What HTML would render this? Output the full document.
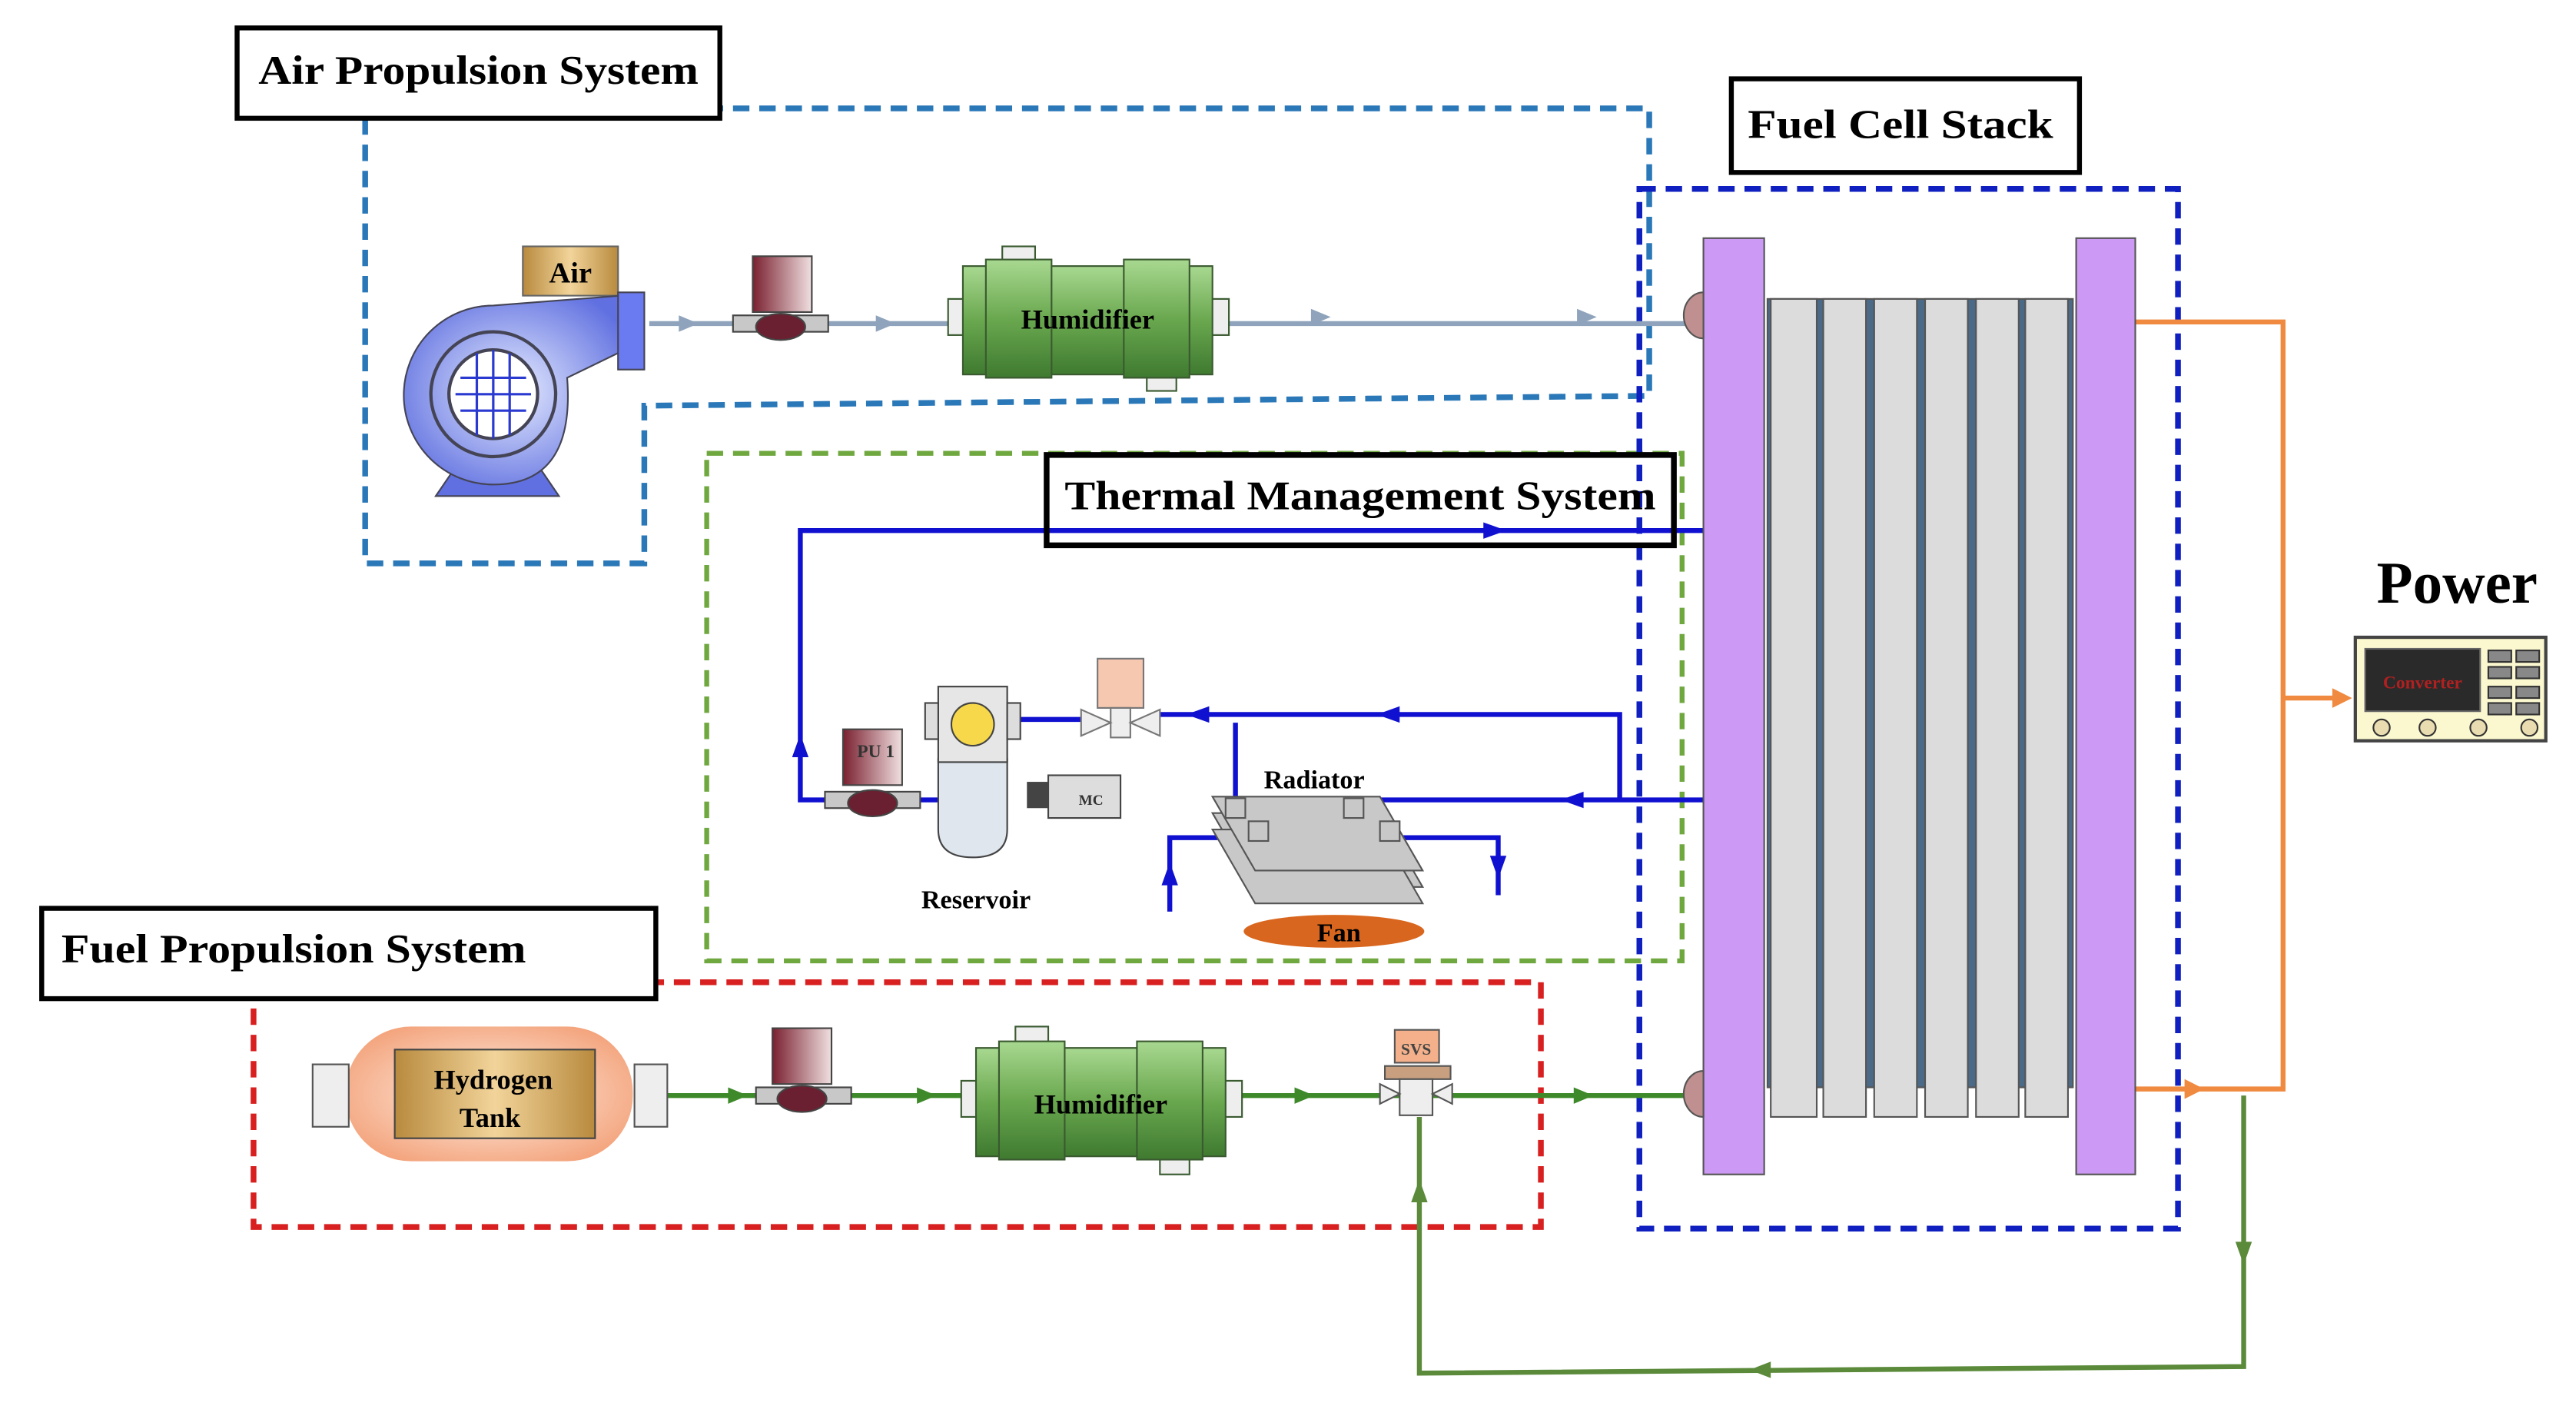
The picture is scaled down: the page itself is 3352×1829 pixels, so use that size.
<!DOCTYPE html>
<html><head><meta charset="utf-8"><style>
html,body{margin:0;padding:0;background:#fff;}
svg{display:block}
text{font-family:"Liberation Serif",serif;font-weight:bold;}
</style></head><body>
<svg width="3352" height="1829" viewBox="0 0 1568 856" xmlns="http://www.w3.org/2000/svg">
<defs>
<linearGradient id="grn" x1="0" y1="0" x2="0" y2="1"><stop offset="0" stop-color="#a8d890"/><stop offset="0.5" stop-color="#6aa84f"/><stop offset="1" stop-color="#3f7a30"/></linearGradient>
<linearGradient id="vlv" x1="0" y1="0" x2="1" y2="0"><stop offset="0" stop-color="#7a2030"/><stop offset="1" stop-color="#f0e0e0"/></linearGradient>
<radialGradient id="pmp" cx="0.5" cy="0.5" r="0.6"><stop offset="0" stop-color="#e6ecff"/><stop offset="1" stop-color="#6070e0"/></radialGradient>
<radialGradient id="tank" cx="0.5" cy="0.5" r="0.6"><stop offset="0" stop-color="#fff0e6"/><stop offset="1" stop-color="#f3a27a"/></radialGradient>
<linearGradient id="box" x1="0" y1="0" x2="1" y2="0"><stop offset="0" stop-color="#b88a3e"/><stop offset="0.5" stop-color="#f2d49a"/><stop offset="1" stop-color="#b88a3e"/></linearGradient>
</defs>

<polygon points="222,66 1004,66 1004,241 392,247 392,343 222,343" fill="none" stroke="#2a78b8" stroke-width="3.5" stroke-dasharray="10,6"/>
<rect x="430" y="276" width="594" height="309" fill="none" stroke="#70a840" stroke-width="3" stroke-dasharray="10,6"/>
<rect x="154" y="598" width="784" height="149" fill="none" stroke="#d82020" stroke-width="3.5" stroke-dasharray="10,6"/>
<rect x="998" y="115" width="328" height="633" fill="none" stroke="#1020c0" stroke-width="3.5" stroke-dasharray="10,6"/>

<polyline points="1300,196 1390,196 1390,663 1300,663" fill="none" stroke="#f08a40" stroke-width="3"/>
<line x1="1390" y1="425" x2="1425" y2="425" stroke="#f08a40" stroke-width="3"/>
<polygon points="1432,425 1420,419 1420,431" fill="#f08a40"/>
<polygon points="1342,663 1330,657 1330,669" fill="#f08a40"/>

<line x1="395" y1="197" x2="1030" y2="197" stroke="#8fa4bc" stroke-width="3"/>
<polygon points="425,197 413,192 413,202" fill="#8fa4bc"/>
<polygon points="545,197 533,192 533,202" fill="#8fa4bc"/>
<polygon points="810,193 798,188 798,198" fill="#8fa4bc"/>
<polygon points="972,193 960,188 960,198" fill="#8fa4bc"/>

<line x1="405" y1="667" x2="1030" y2="667" stroke="#3e8a2a" stroke-width="3"/>
<polygon points="455,667 443,662 443,672" fill="#3e8a2a"/>
<polygon points="570,667 558,662 558,672" fill="#3e8a2a"/>
<polygon points="800,667 788,662 788,672" fill="#3e8a2a"/>
<polygon points="970,667 958,662 958,672" fill="#3e8a2a"/>
<polyline points="1366,667 1366,832 864,836 864,680" fill="none" stroke="#5a8a3a" stroke-width="3"/>
<polygon points="1366,770 1361,756 1371,756" fill="#5a8a3a"/>
<polygon points="1065,834 1078,829 1078,839" fill="#5a8a3a"/>
<polygon points="864,718 859,732 869,732" fill="#5a8a3a"/>

<g stroke="#1010d0" stroke-width="3" fill="none">
<polyline points="1037,323 487,323 487,487 520,487"/>
<polyline points="560,487 600,487"/>
<polyline points="610,438 660,438"/>
<polyline points="705,435 986,435 986,487"/>
<polyline points="825,487 1037,487"/>
<polyline points="752,487 752,440"/>
<polyline points="712,555 712,510 905,510 912,510 912,545"/>
</g>
<g fill="#1010d0">
<polygon points="917,323 903,318 903,328"/>
<polygon points="487,447 482,461 492,461"/>
<polygon points="722,435 736,430 736,440"/>
<polygon points="838,435 852,430 852,440"/>
<polygon points="950,487 964,482 964,492"/>
<polygon points="712,525 707,539 717,539"/>
<polygon points="912,535 907,521 917,521"/>
</g>

<g stroke="#555" stroke-width="1">
<rect x="1076" y="182" width="186" height="480" fill="#4a6a88"/>
<rect x="1078" y="182" width="28" height="498" fill="#dcdcdc"/>
<rect x="1110" y="182" width="26" height="498" fill="#dcdcdc"/>
<rect x="1141" y="182" width="26" height="498" fill="#dcdcdc"/>
<rect x="1172" y="182" width="26" height="498" fill="#dcdcdc"/>
<rect x="1203" y="182" width="26" height="498" fill="#dcdcdc"/>
<rect x="1233" y="182" width="26" height="498" fill="#dcdcdc"/>
<rect x="1037" y="145" width="37" height="570" fill="#cc99f5"/>
<rect x="1264" y="145" width="36" height="570" fill="#cc99f5"/>
</g>
<path d="M1037,178 A12,14 0 0 0 1037,206 Z" fill="#c09090" stroke="#555"/>
<path d="M1037,652 A12,14 0 0 0 1037,680 Z" fill="#c09090" stroke="#555"/>

<rect x="318" y="150" width="58" height="30" fill="url(#box)" stroke="#666"/>
<text x="347" y="172" font-size="18" text-anchor="middle">Air</text>
<path d="M265,302 L280,280 L325,280 L340,302 Z" fill="#6070e0" stroke="#445"/>
<path d="M300,186 L378,180 L378,214 L345,230 Q350,295 300,295 A52,52 0 1 1 300,186 Z" fill="url(#pmp)" stroke="#445"/>
<rect x="376" y="178" width="16" height="47" fill="#6a7af0" stroke="#445"/>
<circle cx="300" cy="240" r="38" fill="none" stroke="#445" stroke-width="2"/>
<circle cx="300" cy="240" r="27" fill="#fff" stroke="#445" stroke-width="2"/>
<g stroke="#2a3ad0" stroke-width="1.5"><line x1="280" y1="230" x2="320" y2="230"/><line x1="277" y1="240" x2="323" y2="240"/><line x1="280" y1="250" x2="320" y2="250"/><line x1="290" y1="215" x2="290" y2="265"/><line x1="300" y1="213" x2="300" y2="267"/><line x1="310" y1="215" x2="310" y2="265"/></g>

<rect x="458" y="156" width="36" height="34" fill="url(#vlv)" stroke="#444"/>
<rect x="446" y="192" width="58" height="10" fill="#c8c8c8" stroke="#444"/>
<ellipse cx="475" cy="199" rx="15" ry="8" fill="#6a2030" stroke="#444"/>
<rect x="470" y="626" width="36" height="34" fill="url(#vlv)" stroke="#444"/>
<rect x="460" y="662" width="58" height="10" fill="#c8c8c8" stroke="#444"/>
<ellipse cx="488" cy="669" rx="15" ry="8" fill="#6a2030" stroke="#444"/>

<g stroke="#3a5a30">
<rect x="610" y="150" width="20" height="12" fill="#eee"/>
<rect x="698" y="226" width="18" height="12" fill="#eee"/>
<rect x="577" y="182" width="14" height="22" fill="#eee"/>
<rect x="736" y="182" width="12" height="22" fill="#eee"/>
<rect x="586" y="162" width="152" height="66" fill="url(#grn)"/>
<rect x="600" y="158" width="40" height="72" fill="url(#grn)"/>
<rect x="684" y="158" width="40" height="72" fill="url(#grn)"/>
</g>
<text x="662" y="200" font-size="17" text-anchor="middle">Humidifier</text>
<g stroke="#3a5a30">
<rect x="618" y="625" width="20" height="12" fill="#eee"/>
<rect x="706" y="703" width="18" height="12" fill="#eee"/>
<rect x="585" y="658" width="14" height="22" fill="#eee"/>
<rect x="744" y="658" width="12" height="22" fill="#eee"/>
<rect x="594" y="638" width="152" height="66" fill="url(#grn)"/>
<rect x="608" y="634" width="40" height="72" fill="url(#grn)"/>
<rect x="692" y="634" width="40" height="72" fill="url(#grn)"/>
</g>
<text x="670" y="678" font-size="17" text-anchor="middle">Humidifier</text>

<rect x="210" y="625" width="175" height="82" rx="40" fill="url(#tank)"/>
<rect x="190" y="648" width="22" height="38" fill="#eee" stroke="#555"/>
<rect x="386" y="648" width="20" height="38" fill="#eee" stroke="#555"/>
<rect x="240" y="639" width="122" height="54" fill="url(#box)" stroke="#444"/>
<text x="300" y="663" font-size="17" text-anchor="middle">Hydrogen</text>
<text x="298" y="686" font-size="17" text-anchor="middle">Tank</text>

<rect x="849" y="627" width="27" height="20" fill="#f3b08a" stroke="#555"/>
<text x="862" y="642" font-size="10" text-anchor="middle" font-weight="normal" fill="#444" font-family="Liberation Sans">SVS</text>
<rect x="843" y="649" width="40" height="8" fill="#c8a080" stroke="#555"/>
<rect x="852" y="657" width="20" height="22" fill="#eee" stroke="#555"/>
<polygon points="840,660 852,666 840,672" fill="#eee" stroke="#555"/>
<polygon points="884,660 872,666 884,672" fill="#eee" stroke="#555"/>

<rect x="513" y="444" width="36" height="34" fill="url(#vlv)" stroke="#444"/>
<text x="533" y="461" font-size="11" font-weight="normal" fill="#333" font-family="Liberation Sans" text-anchor="middle">PU 1</text>
<rect x="502" y="482" width="58" height="10" fill="#c8c8c8" stroke="#444"/>
<ellipse cx="531" cy="489" rx="15" ry="8" fill="#6a2030" stroke="#444"/>
<path d="M571,462 L613,462 L613,505 Q613,522 592,522 Q571,522 571,505 Z" fill="#dfe6ee" stroke="#444"/>
<rect x="571" y="418" width="42" height="46" fill="#e6e6e6" stroke="#444"/>
<rect x="563" y="428" width="8" height="22" fill="#ddd" stroke="#444"/>
<rect x="613" y="428" width="8" height="22" fill="#ddd" stroke="#444"/>
<circle cx="592" cy="441" r="13" fill="#f6d84a" stroke="#444"/>
<rect x="625" y="476" width="14" height="16" fill="#444"/>
<rect x="638" y="472" width="44" height="26" fill="#ddd" stroke="#444"/>
<text x="664" y="490" font-size="9" font-weight="normal" fill="#333" font-family="Liberation Sans" text-anchor="middle">MC</text>
<text x="594" y="553" font-size="16" text-anchor="middle">Reservoir</text>
<rect x="668" y="401" width="28" height="30" fill="#f6c8b0" stroke="#777"/>
<rect x="676" y="431" width="12" height="18" fill="#eee" stroke="#777"/>
<polygon points="658,432 676,440 658,448" fill="#eee" stroke="#777"/>
<polygon points="706,432 688,440 706,448" fill="#eee" stroke="#777"/>
<g fill="#c8c8c8" stroke="#555">
<polygon points="738,495 840,495 866,540 764,540"/>
<polygon points="738,505 840,505 866,550 764,550"/>
<polygon points="738,485 840,485 866,530 764,530"/>
<rect x="746" y="486" width="12" height="12"/><rect x="818" y="486" width="12" height="12"/>
<rect x="760" y="500" width="12" height="12"/><rect x="840" y="500" width="12" height="12"/>
</g>
<text x="800" y="480" font-size="16" text-anchor="middle">Radiator</text>
<ellipse cx="812" cy="567" rx="55" ry="10" fill="#d9661e"/>
<text x="815" y="573" font-size="16" text-anchor="middle">Fan</text>

<rect x="1434" y="388" width="116" height="63" fill="#fbf8d0" stroke="#444" stroke-width="2"/>
<rect x="1440" y="395" width="70" height="38" fill="#2a2a2a" stroke="#666"/>
<text x="1475" y="419" font-size="11" font-weight="normal" fill="#b02020" font-family="Liberation Sans" text-anchor="middle">Converter</text>
<g fill="#888" stroke="#333"><rect x="1515" y="396" width="14" height="7"/><rect x="1532" y="396" width="14" height="7"/><rect x="1515" y="406" width="14" height="7"/><rect x="1532" y="406" width="14" height="7"/><rect x="1515" y="418" width="14" height="7"/><rect x="1532" y="418" width="14" height="7"/><rect x="1515" y="428" width="14" height="7"/><rect x="1532" y="428" width="14" height="7"/></g>
<g fill="#e8dcb0" stroke="#333"><circle cx="1450" cy="443" r="5"/><circle cx="1478" cy="443" r="5"/><circle cx="1509" cy="443" r="5"/><circle cx="1540" cy="443" r="5"/></g>
<text x="1496" y="367" font-size="36" text-anchor="middle">Power</text>

<rect x="144" y="17" width="294" height="55" fill="#fff" stroke="#000" stroke-width="3"/>
<text x="157" y="51" font-size="25" textLength="268" lengthAdjust="spacingAndGlyphs">Air Propulsion System</text>
<rect x="1054" y="48" width="212" height="57" fill="#fff" stroke="#000" stroke-width="3"/>
<text x="1064" y="84" font-size="25" textLength="186" lengthAdjust="spacingAndGlyphs">Fuel Cell Stack</text>
<rect x="637" y="277" width="382" height="55" fill="none" stroke="#000" stroke-width="3.5"/>
<text x="648" y="310" font-size="25" textLength="360" lengthAdjust="spacingAndGlyphs">Thermal Management System</text>
<rect x="25" y="553" width="374" height="55" fill="#fff" stroke="#000" stroke-width="3"/>
<text x="37" y="586" font-size="25" textLength="283" lengthAdjust="spacingAndGlyphs">Fuel Propulsion System</text>
</svg>
</body></html>
